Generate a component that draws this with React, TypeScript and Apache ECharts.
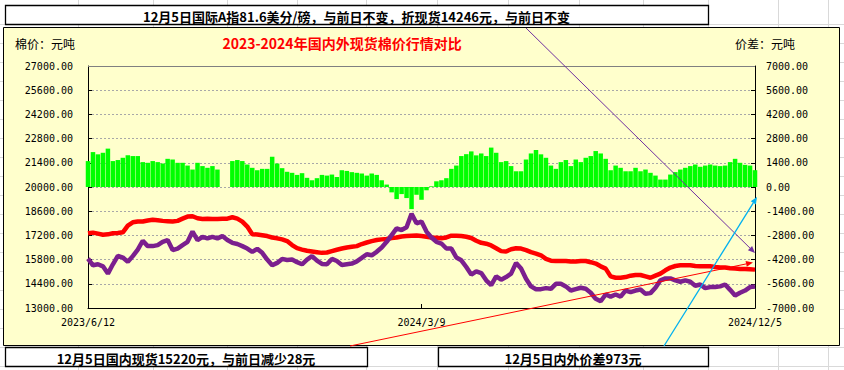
import React, { useEffect, useRef } from "react";
import * as echarts from "echarts";

const xTickLabels = ["2023/6/12", "2024/3/9", "2024/12/5"];
const leftTicks = [13000, 14400, 15800, 17200, 18600, 20000, 21400, 22800, 24200, 25600, 27000];
const rightTicks = [-7000, -5600, -4200, -2800, -1400, 0, 1400, 2800, 4200, 5600, 7000];

// 国内现货 (red, left axis)
const domestic = [
  17320, 17360, 17300, 17240, 17260, 17320, 17340, 17380, 17770, 17960, 18000, 18000, 18060, 18100, 18080, 18040, 18020, 18000, 18040, 18170, 18290, 18310, 18190, 18150, 18170, 18150, 18150, 18170, 18170, 18250, 18170, 18000, 17710, 17270,
  17250, 17210, 17160, 17080, 17030, 16970, 16870, 16640, 16460, 16380, 16310, 16270, 16230, 16190, 16210, 16290, 16370, 16440, 16500, 16540, 16580, 16700, 16790, 16870, 16930, 16970, 16990, 17050, 17080, 17140, 17160, 17180, 17200,
  17160, 17120, 17080, 17070, 17030, 17080, 17180, 17180, 17160, 17120, 17050, 16890, 16770, 16720, 16620, 16460, 16290, 16270, 16400, 16460, 16440, 16350, 16230, 16150, 16050, 15840, 15740, 15720, 15720, 15720, 15690, 15690, 15720,
  15720, 15650, 15570, 15410, 15280, 14830, 14750, 14750, 14790, 14870, 14910, 14910, 14830, 14750, 14870, 14990, 15180, 15340, 15430, 15470, 15470, 15470, 15430, 15410, 15410, 15410, 15370, 15350, 15340, 15300, 15280, 15260, 15260, 15240, 15220,
];

// 国际A指折现货 (purple, left axis)
const international = [
  15860, 15470, 15530, 15410, 14990, 15530, 16020, 15920, 15670, 16000, 16380, 16890, 16580, 16580, 16640, 16830, 16930, 16350, 16440, 16640, 16830, 17420, 16930, 17120, 17030, 17120, 17030, 17160, 16930, 16770, 16700, 16580, 16440, 16250,
  16420, 16190, 15800, 15470, 15610, 15840, 15780, 15800, 15650, 15530, 15800, 16000, 15740, 15550, 15530, 15840, 15720, 15490, 15530, 15570, 15700, 15900, 16110, 16050, 16250, 16500, 16830, 17220, 17610, 17510, 17670, 18450, 17900,
  18000, 17420, 17080, 16830, 16730, 16440, 16440, 15920, 15760, 15370, 14930, 15120, 15020, 14600, 14320, 14830, 14640, 14790, 14990, 15610, 15280, 14690, 14250, 14090, 14090, 14150, 14110, 14400, 14400, 14250, 14010, 14090, 14170,
  14110, 13880, 13530, 13390, 13780, 13660, 13780, 13660, 14010, 13920, 14010, 14070, 13820, 13860, 14170, 14600, 14710, 14710, 14600, 14520, 14600, 14520, 14290, 14360, 14150, 14210, 14210, 14250, 14360, 14050, 13720, 13880, 14010, 14210, 14246,
];

// 内外价差 (green bars, right axis)
const spread: (number | null)[] = [
  1500, 2020, 1890, 1980, 2220, 1500, 1560, 1690, 1830, 1790, 1790, 1440, 1400, 1500, 1440, 1360, 1630, 1590, 1400, 1400, 1240, 1010, 1400, 1210, 1110, 1210, 1010, null, null, 1500, 1560, 1500, 1300, 1110,
  970, 1050, 1050, 1750, 1360, 1090, 880, 820, 700, 800, 530, 390, 510, 700, 660, 720, 580, 970, 930, 860, 820, 780, 660, 780, 700, 390, 140, -310, -700, -410, -640, -1280, -450,
  -740, -190, 40, 330, 390, 510, 1050, 1240, 1790, 1900, 2060, 1830, 1940, 1790, 2280, 1980, 1440, 1500, 1210, 910, 910, 1590, 1940, 2140, 1890, 1690, 1240, 1050, 1440, 1560, 1210, 1590, 1440,
  1690, 1790, 2080, 1940, 1630, 970, 1240, 1110, 910, 910, 1110, 910, 1010, 820, 660, 430, 430, 720, 860, 1010, 1110, 1210, 1300, 1170, 1240, 1300, 1240, 1210, 1240, 1440, 1630, 1400, 1280, 1240, 973,
];

const chartTitle = "2023-2024年国内外现货棉价行情对比";
const leftUnit = "棉价：元吨";
const rightUnit = "价差：元吨";
const headline = "12月5日国际A指81.6美分/磅，与前日不变，折现货14246元，与前日不变";
const domesticNote = "12月5日国内现货15220元，与前日减少28元";
const spreadNote = "12月5日内外价差973元";

const sheetCols = [78, 153, 227, 297, 366, 437, 508, 579, 643, 708, 778, 828];

const MONO = "'DejaVu Sans Mono', 'Liberation Mono', monospace";
const CJK = "'Noto Sans CJK SC', 'Noto Sans', sans-serif";

export default function App() {
  const ref = useRef<HTMLDivElement>(null);
  useEffect(() => {
    if (!ref.current) return;
    const chart = echarts.init(ref.current, undefined, { renderer: "svg" });
    const last = domestic.length - 1;
    const half = last / 2;

    const graphics: any[] = [];
    // spreadsheet grid
    for (let k = 0; k <= 18; k++) {
      const y = 24.5 + 19 * k;
      graphics.push({ type: "line", z: -200, silent: true, shape: { x1: 0, y1: y, x2: 844, y2: y }, style: { stroke: "#d9d9d9", lineWidth: 1 } });
    }
    sheetCols.forEach((x) => {
      graphics.push({ type: "line", z: -200, silent: true, shape: { x1: x + 0.5, y1: 0, x2: x + 0.5, y2: 370 }, style: { stroke: "#d9d9d9", lineWidth: 1 } });
    });
    // chart area
    graphics.push({ type: "rect", z: -100, silent: true, shape: { x: 3.5, y: 27.5, width: 836, height: 318 }, style: { fill: "#ffffcc", stroke: "#000", lineWidth: 1 } });
    // top plot border
    graphics.push({ type: "line", z: 1, silent: true, shape: { x1: 88, y1: 66.5, x2: 755, y2: 66.5 }, style: { stroke: "#808080", lineWidth: 1 } });
    // texts in chart area
    graphics.push({ type: "text", z: 50, x: 15, y: 43, style: { text: leftUnit, fill: "#000", font: `12px ${CJK}`, textAlign: "left", textVerticalAlign: "middle" } });
    graphics.push({ type: "text", z: 50, x: 735, y: 43, style: { text: rightUnit, fill: "#000", font: `12px ${CJK}`, textAlign: "left", textVerticalAlign: "middle" } });
    graphics.push({ type: "text", z: 50, x: 342, y: 43, style: { text: chartTitle, fill: "#ff0000", font: `bold 14px ${CJK}`, textAlign: "center", textVerticalAlign: "middle" } });
    // text boxes
    const box = (x: number, y: number, w: number, h: number, text: string, ty: number) => {
      graphics.push({ type: "rect", z: 60, silent: true, shape: { x: x + 0.5, y: y + 0.5, width: w, height: h }, style: { fill: "#ffffff", stroke: "#000", lineWidth: 1.3 } });
      graphics.push({ type: "text", z: 61, x: x + w / 2, y: ty, style: { text, fill: "#000", font: `bold 13px ${CJK}`, textAlign: "center", textVerticalAlign: "middle" } });
    };
    box(5, 5, 703, 19, headline, 16);
    box(5, 347, 362, 19, domesticNote, 358);
    box(438, 347, 270, 19, spreadNote, 358);
    // annotation arrows
    const arrow = (x1: number, y1: number, x2: number, y2: number, color: string, w: number) => {
      const dx = x2 - x1, dy = y2 - y1;
      const len = Math.sqrt(dx * dx + dy * dy);
      const ux = dx / len, uy = dy / len;
      const bx = x2 - ux * 7, by = y2 - uy * 7;
      graphics.push({ type: "line", z: 70, silent: true, shape: { x1, y1, x2: bx, y2: by }, style: { stroke: color, lineWidth: w } });
      graphics.push({ type: "polygon", z: 70, silent: true, shape: { points: [[x2, y2], [bx - uy * 3, by + ux * 3], [bx + uy * 3, by - ux * 3]] }, style: { fill: color } });
    };
    arrow(526, 28, 755, 253, "#7030a0", 1);
    arrow(350, 346, 753, 262.5, "#ff0000", 1);
    arrow(664, 346, 757, 197, "#00b0f0", 1.3);

    const labelStyle = { fontFamily: MONO, fontSize: 10, color: "#000" };

    chart.setOption({
      animation: false,
      backgroundColor: "#ffffff",
      grid: { left: 88, top: 66, width: 667, height: 242, containLabel: false },
      xAxis: {
        type: "value",
        min: 0,
        max: last,
        interval: half,
        axisLine: { show: true, onZero: false, lineStyle: { color: "#000", width: 1 } },
        axisTick: { show: true, inside: true, length: 4, lineStyle: { color: "#000" } },
        axisLabel: {
          ...labelStyle,
          margin: 9,
          formatter: (v: number) => xTickLabels[Math.round(v / half)] ?? "",
        },
        splitLine: { show: false },
      },
      yAxis: [
        {
          type: "value",
          position: "left",
          min: 13000,
          max: 27000,
          axisLine: { show: true, onZero: false, lineStyle: { color: "#000", width: 1 } },
          axisTick: { show: true, inside: true, length: 4, customValues: leftTicks, lineStyle: { color: "#000" } },
          axisLabel: { ...labelStyle, margin: 15, customValues: leftTicks, formatter: (v: number) => v.toFixed(2) },
          splitLine: { show: false },
        },
        {
          type: "value",
          position: "right",
          min: -7000,
          max: 7000,
          interval: 1400,
          axisLine: { show: true, onZero: false, lineStyle: { color: "#000", width: 1 } },
          axisTick: { show: true, inside: true, length: 4, customValues: rightTicks, lineStyle: { color: "#000" } },
          axisLabel: { ...labelStyle, margin: 11, customValues: rightTicks, formatter: (v: number) => v.toFixed(2) },
          splitLine: { show: true, lineStyle: { color: "#a8a8a8", type: [2, 2], width: 1 } },
        },
      ],
      series: [
        {
          type: "bar",
          yAxisIndex: 1,
          barWidth: 4.5,
          data: spread.map((v, i) => [i, v === null ? "-" : v]),
          itemStyle: { color: "#00ff00" },
          z: 2,
        },
        {
          type: "line",
          yAxisIndex: 0,
          data: domestic.map((v, i) => [i, v]),
          showSymbol: false,
          lineStyle: { color: "#ff0000", width: 4.5 },
          z: 3,
        },
        {
          type: "line",
          yAxisIndex: 0,
          data: international.map((v, i) => [i, v]),
          showSymbol: false,
          lineStyle: { color: "#7b1f8e", width: 4.5 },
          z: 4,
        },
      ],
      graphic: { elements: graphics },
    });
    return () => chart.dispose();
  }, []);
  return <div ref={ref} style={{ position: "fixed", left: 0, top: 0, width: 844, height: 370 }} />;
}
